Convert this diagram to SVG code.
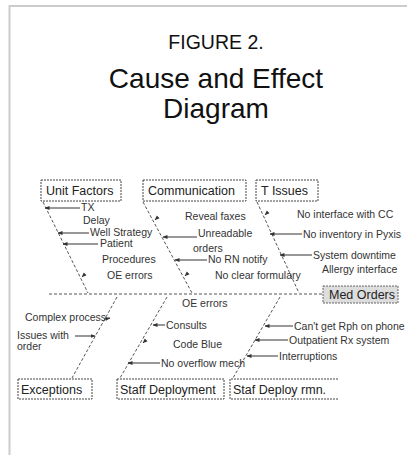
<svg xmlns="http://www.w3.org/2000/svg" width="407" height="455" viewBox="0 0 407 455">
<style>
.title{font-family:"Liberation Sans",Arial,sans-serif;fill:#111;text-anchor:middle}
.box{fill:#fff;stroke:#444;stroke-width:1;stroke-dasharray:2 1}
.bt{font-family:"Liberation Sans",Arial,sans-serif;font-size:12.5px;fill:#222}
.lb{font-family:"Liberation Sans",Arial,sans-serif;font-size:10.5px;fill:#333}
.bone{stroke:#555;stroke-width:1;stroke-dasharray:3 2;fill:none}
.arr{stroke:#333;stroke-width:1;fill:none;marker-end:url(#ah)}
</style>
<defs>
<marker id="ah" markerWidth="5" markerHeight="5" refX="4.5" refY="2.5" orient="auto" markerUnits="userSpaceOnUse">
<path d="M0,0.5 L5,2.5 L0,4.5 Z" fill="#333"/>
</marker>
</defs>
<rect width="407" height="455" fill="#fff"/>
<path d="M9.5,455 V6 H407" fill="none" stroke="#ccc" stroke-width="2"/>
<g id="title">
<text class="title" x="216" y="49" font-size="19.5">FIGURE 2.</text>
<text class="title" x="216" y="88" font-size="28">Cause and Effect</text>
<text class="title" x="216" y="118" font-size="28">Diagram</text>
</g>
<g id="connectors">
<path class="bone" d="M49,294 H323"/>
<path class="bone" d="M43,202 L88,293"/>
<path class="bone" d="M143,202 L192,293"/>
<path class="bone" d="M257,202 L299,293"/>
<path class="bone" d="M117,297 L72,378"/>
<path class="bone" d="M167,297 L120,378"/>
<path class="bone" d="M280,297 L233,378"/>
<path class="arr" d="M80,208 H45"/>
<path class="arr" d="M89,233 H58"/>
<path class="arr" d="M98,244 H63"/>
<path class="arr" d="M84,275 L82,277"/>
<path class="arr" d="M157,218 L155,220"/>
<path class="arr" d="M197,237 H163"/>
<path class="arr" d="M207,260 H175"/>
<path class="arr" d="M187,274 L185,276"/>
<path class="arr" d="M267,213 L265,215"/>
<path class="arr" d="M302,234 H270"/>
<path class="arr" d="M312,255 H280"/>
<path class="arr" d="M105,319 L110,318"/>
<path class="arr" d="M75,336 H95"/>
<path class="arr" d="M165,325 H153"/>
<path class="arr" d="M145,341 L143,343"/>
<path class="arr" d="M160,363 H128"/>
<path class="arr" d="M293,326 H265"/>
<path class="arr" d="M288,340 H255"/>
<path class="arr" d="M278,356 H247"/>
</g>
<g id="unit-factors"><rect class="box" x="41" y="180" width="80" height="21"/><text class="bt" x="46" y="195">Unit Factors</text></g>
<g id="communication"><rect class="box" x="143" y="180" width="103" height="21"/><text class="bt" x="148" y="195">Communication</text></g>
<g id="it-issues"><rect class="box" x="256" y="180" width="62" height="21"/><text class="bt" x="261" y="195">T Issues</text></g>
<g id="med-orders"><rect x="323" y="286" width="75" height="17" fill="#ddd" stroke="#666" stroke-dasharray="2 1"/><text class="bt" x="329" y="299">Med Orders</text></g>
<g id="exceptions"><rect class="box" x="18" y="379" width="74" height="20"/><text class="bt" x="21" y="394">Exceptions</text></g>
<g id="staff-deployment"><rect class="box" x="117" y="379" width="107" height="20"/><text class="bt" x="120" y="394">Staff Deployment</text></g>
<g id="staff-deploy-rmn"><path class="box" d="M338,379 H230 V399 H338"/><text class="bt" x="233" y="394">Staf Deploy rmn.</text></g>
<g id="labels">
<text class="lb" x="81" y="211">TX</text>
<text class="lb" x="83" y="224">Delay</text>
<text class="lb" x="90" y="236">Well Strategy</text>
<text class="lb" x="100" y="247">Patient</text>
<text class="lb" x="102" y="263">Procedures</text>
<text class="lb" x="107" y="279">OE errors</text>
<text class="lb" x="185" y="220">Reveal faxes</text>
<text class="lb" x="198" y="237">Unreadable</text>
<text class="lb" x="193" y="252">orders</text>
<text class="lb" x="208" y="263">No RN notify</text>
<text class="lb" x="215" y="279">No clear formulary</text>
<text class="lb" x="297" y="218">No interface with CC</text>
<text class="lb" x="303" y="238">No inventory in Pyxis</text>
<text class="lb" x="313" y="259">System downtime</text>
<text class="lb" x="322" y="273">Allergy interface</text>
<text class="lb" x="182" y="307">OE errors</text>
<text class="lb" x="25" y="321">Complex process</text>
<text class="lb" x="17" y="339">Issues with</text>
<text class="lb" x="17" y="350">order</text>
<text class="lb" x="166" y="329">Consults</text>
<text class="lb" x="173" y="348">Code Blue</text>
<text class="lb" x="161" y="367">No overflow mech</text>
<text class="lb" x="294" y="330">Can't get Rph on phone</text>
<text class="lb" x="289" y="344">Outpatient Rx system</text>
<text class="lb" x="279" y="360">Interruptions</text>
</g>
</svg>
